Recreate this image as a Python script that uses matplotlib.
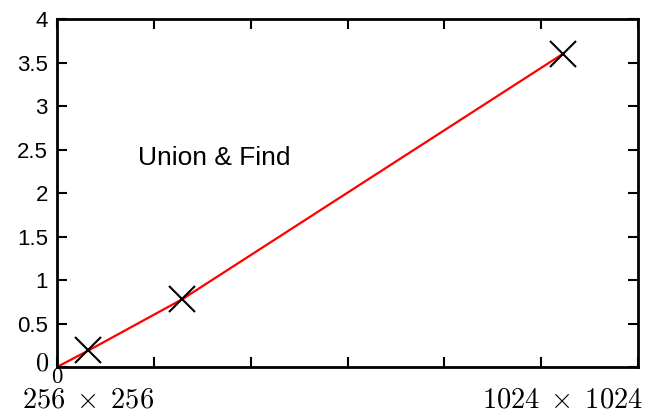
import matplotlib
matplotlib.use("Agg")
import matplotlib.pyplot as plt

plt.rcParams['mathtext.fontset'] = 'cm'
plt.rcParams['font.family'] = ['Liberation Sans', 'DejaVu Sans']

# data
x_vals = [0.325, 1.295, 5.225]
y_vals = [0.19, 0.78, 3.60]
curve_x = [0.0] + x_vals
curve_y = [0.0] + y_vals
size_labels = [r'$256\;\times\;256$', r'$1024\;\times\;1024$']
x_ticks = [0, 1, 2, 3, 4, 5, 6]
y_ticks = [0, 0.5, 1, 1.5, 2, 2.5, 3, 3.5, 4]
y_ticklabels = ['', '0.5', '1', '1.5', '2', '2.5', '3', '3.5', '4']
zero_label = r'$0$'
annotation = 'Union & Find'

fig = plt.figure(figsize=(6.62, 4.12), dpi=100)
ax = fig.add_axes([57/662, 1-367/412, (638-57)/662, (367-19)/412])

ax.plot(curve_x, curve_y, color='#ff0000', lw=1.6, zorder=2)
ax.plot(x_vals, y_vals, linestyle='none', marker='x', markersize=18.5,
        markeredgewidth=1.5, color='black', zorder=3)

ax.set_xlim(0, 6)
ax.set_ylim(0, 4)
ax.set_xticks(x_ticks)
ax.set_xticklabels([''] * len(x_ticks))
ax.set_yticks(y_ticks)
ax.set_yticklabels(y_ticklabels)

ax.tick_params(axis='both', which='major', direction='in', length=7, width=1.5,
               top=True, right=True, labelsize=16, colors='black')
ax.tick_params(axis='y', pad=6.5)

for sp in ax.spines.values():
    sp.set_linewidth(2)
    sp.set_color('black')

# zero labels (serif) at the origin
ax.annotate(zero_label, xy=(0, 0), xycoords='data', xytext=(-11, 2.5),
            textcoords='offset points', ha='center', va='center',
            fontsize=19, color='black', annotation_clip=False)
ax.annotate(zero_label, xy=(0, 0), xycoords='data', xytext=(0, -6.5),
            textcoords='offset points', ha='center', va='center',
            fontsize=16.5, color='black', annotation_clip=False)

for xv, lab in zip([x_vals[0], x_vals[2]], size_labels):
    ax.annotate(lab, xy=(xv, 0), xycoords=('data', 'axes fraction'),
                xytext=(0, -29), textcoords='offset points',
                ha='center', va='baseline', fontsize=20.5, color='black',
                annotation_clip=False)

ax.text(1.62, 2.4, annotation, ha='center', va='center', fontsize=19,
        color='black')

fig.savefig('out.png', dpi=100)
